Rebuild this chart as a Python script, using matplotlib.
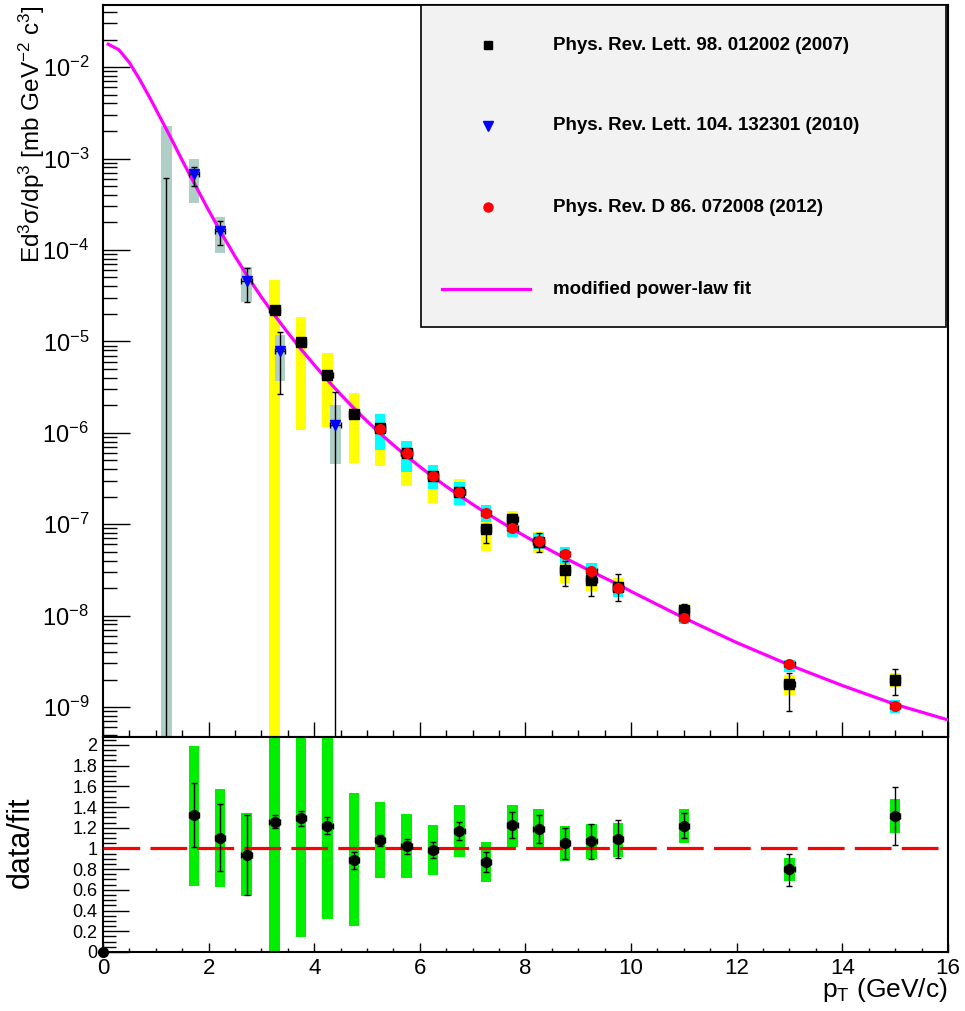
import numpy as np
import matplotlib
matplotlib.use("Agg")
import matplotlib.pyplot as plt
from matplotlib.ticker import MultipleLocator, LogLocator, FuncFormatter, NullFormatter

plt.rcParams['font.family'] = ['Liberation Sans', 'DejaVu Sans']
plt.rcParams['mathtext.default'] = 'regular'
plt.rcParams['axes.unicode_minus'] = False

#####----- data

# Phys. Rev. Lett. 98, 012002 (2007) - black squares, yellow syst. boxes
x_prl98 = [3.25, 3.75, 4.25, 4.75, 5.25, 5.75, 6.25, 6.75, 7.25, 7.75, 8.25, 8.75, 9.25, 9.75, 11.0, 13.0, 15.0]
y_prl98 = [2.19e-5, 9.8e-6, 4.27e-6, 1.60e-6, 1.12e-6, 5.95e-7, 3.35e-7, 2.26e-7, 8.8e-8, 1.13e-7, 6.35e-8, 3.19e-8, 2.44e-8, 2.05e-8, 1.15e-8, 1.77e-9, 1.96e-9]
stat_lo_prl98 = [2.1e-5, 9.4e-6, 4.1e-6, 1.54e-6, 1.07e-6, 5.7e-7, 3.2e-7, 2.15e-7, 6.3e-8, 9.5e-8, 5.0e-8, 2.13e-8, 1.64e-8, 1.45e-8, 9.8e-9, 9.0e-10, 1.35e-9]
stat_hi_prl98 = [2.28e-5, 1.02e-5, 4.45e-6, 1.66e-6, 1.17e-6, 6.2e-7, 3.5e-7, 2.37e-7, 1.0e-7, 1.29e-7, 8.0e-8, 4.0e-8, 3.1e-8, 2.82e-8, 1.33e-8, 2.34e-9, 2.58e-9]
sys_lo_prl98 = [1e-11, 1.07e-6, 1.15e-6, 4.65e-7, 4.35e-7, 2.6e-7, 1.71e-7, 1.6e-7, 5.1e-8, 8.5e-8, 4.8e-8, 2.28e-8, 1.86e-8, 1.7e-8, 9.0e-9, 1.35e-9, 1.66e-9]
sys_hi_prl98 = [4.68e-5, 1.84e-5, 7.43e-6, 2.71e-6, 1.5e-6, 7.5e-7, 4.2e-7, 3.1e-7, 1.15e-7, 1.39e-7, 8.2e-8, 4.0e-8, 3.2e-8, 2.55e-8, 1.35e-8, 2.23e-9, 2.33e-9]

# Phys. Rev. Lett. 104, 132301 (2010) - blue triangles, grey syst. boxes
x_prl104 = [1.2, 1.72, 2.22, 2.72, 3.35, 4.4]
y_prl104 = [3e-10, 6.75e-4, 1.62e-4, 4.59e-5, 7.87e-6, 1.23e-6]
stat_lo_prl104 = [1e-11, 4.99e-4, 1.13e-4, 2.69e-5, 2.64e-6, 1e-11]
stat_hi_prl104 = [6.1e-4, 8.1e-4, 2.08e-4, 6.37e-5, 1.25e-5, 2.76e-6]
sys_lo_prl104 = [1e-11, 3.23e-4, 9.3e-5, 2.67e-5, 3.7e-6, 4.5e-7]
sys_hi_prl104 = [2.26e-3, 9.77e-4, 2.27e-4, 6.53e-5, 1.17e-5, 2.0e-6]

# Phys. Rev. D 86, 072008 (2012) - red circles, cyan syst. boxes
x_prd86 = [5.25, 5.75, 6.25, 6.75, 7.25, 7.75, 8.25, 8.75, 9.25, 9.75, 11.0, 13.0, 15.0]
y_prd86 = [1.11e-6, 5.94e-7, 3.35e-7, 2.25e-7, 1.34e-7, 9.1e-8, 6.5e-8, 4.7e-8, 3.08e-8, 2.03e-8, 9.5e-9, 2.92e-9, 1.02e-9]
sys_lo_prd86 = [6.45e-7, 3.73e-7, 2.4e-7, 1.61e-7, 1.06e-7, 7.2e-8, 5.3e-8, 3.7e-8, 2.5e-8, 1.6e-8, 8.05e-9, 2.42e-9, 8.7e-10]
sys_hi_prd86 = [1.6e-6, 8.1e-7, 4.43e-7, 2.86e-7, 1.61e-7, 1.09e-7, 8.0e-8, 5.65e-8, 3.74e-8, 2.34e-8, 1.1e-8, 3.31e-9, 1.19e-9]

# modified power-law fit, sampled off the curve
fit_pt = [0.1, 0.3, 0.5, 0.7, 0.9, 1.1, 1.3, 1.5, 1.75, 2.0, 2.25, 2.5, 2.75, 3.0, 3.25, 3.5, 3.75, 4.0,
          4.25, 4.5, 4.75, 5.0, 5.25, 5.5, 5.75, 6.0, 6.25, 6.5, 6.75, 7.0, 7.25, 7.5, 7.75, 8.0, 8.25,
          8.5, 8.75, 9.0, 9.25, 9.5, 9.75, 10.0, 11.0, 12.0, 13.0, 14.0, 15.0, 16.0]
fit_val = [1.778e-2, 1.549e-2, 1.122e-2, 7.24e-3, 4.47e-3, 2.69e-3, 1.62e-3, 9.55e-4, 5.07e-4, 2.72e-4,
           1.50e-4, 8.51e-5, 5.01e-5, 3.05e-5, 1.93e-5, 1.245e-5, 8.22e-6, 5.53e-6, 3.78e-6, 2.63e-6,
           1.86e-6, 1.34e-6, 9.83e-7, 7.33e-7, 5.55e-7, 4.26e-7, 3.30e-7, 2.59e-7, 2.06e-7, 1.65e-7,
           1.33e-7, 1.09e-7, 8.91e-8, 7.35e-8, 6.10e-8, 5.08e-8, 4.27e-8, 3.60e-8, 3.04e-8, 2.58e-8,
           2.20e-8, 1.84e-8, 9.44e-9, 5.07e-9, 2.88e-9, 1.72e-9, 1.07e-9, 7.24e-10]

# data/fit
x_ratio = [1.72, 2.22, 2.72, 3.25, 3.75, 4.25, 4.75, 5.25, 5.75, 6.25, 6.75, 7.25, 7.75, 8.25, 8.75, 9.25, 9.75, 11.0, 13.0, 15.0]
ratio = [1.32, 1.10, 0.935, 1.26, 1.29, 1.22, 0.89, 1.08, 1.02, 0.98, 1.17, 0.87, 1.23, 1.19, 1.05, 1.07, 1.09, 1.22, 0.80, 1.31]
ratio_stat_lo = [1.01, 0.78, 0.55, 1.20, 1.22, 1.14, 0.80, 1.02, 0.95, 0.91, 1.08, 0.77, 1.10, 1.05, 0.90, 0.90, 0.91, 1.10, 0.64, 1.03]
ratio_stat_hi = [1.63, 1.43, 1.32, 1.32, 1.36, 1.30, 0.97, 1.13, 1.09, 1.06, 1.26, 0.97, 1.35, 1.32, 1.20, 1.24, 1.27, 1.34, 0.95, 1.59]
ratio_sys_lo = [0.64, 0.63, 0.54, 0.0, 0.14, 0.32, 0.25, 0.71, 0.71, 0.74, 0.92, 0.68, 1.01, 1.01, 0.88, 0.90, 0.92, 1.05, 0.69, 1.15]
ratio_sys_hi = [1.99, 1.57, 1.34, 2.5, 2.5, 2.5, 1.54, 1.45, 1.33, 1.23, 1.42, 1.06, 1.42, 1.38, 1.22, 1.24, 1.25, 1.38, 0.91, 1.48]

legend_labels = ["Phys. Rev. Lett. 98. 012002 (2007)",
                 "Phys. Rev. Lett. 104. 132301 (2010)",
                 "Phys. Rev. D 86. 072008 (2012)",
                 "modified power-law fit"]

#####----- helpers

def syst_boxes(axis, x, lo, hi, color):
    lo = np.array(lo)
    hi = np.array(hi)
    axis.bar(x, hi - lo, bottom=lo, width=0.2, color=color, linewidth=0, zorder=1)

def points(axis, x, y, lo, hi, marker, color, ms):
    y = np.array(y)
    yerr = [y - np.array(lo), np.array(hi) - y]
    axis.errorbar(x, y, yerr=yerr, xerr=0.1, fmt=marker, ms=ms, mfc=color, mec=color,
                  ecolor='black', elinewidth=1.0, capsize=2.5, capthick=1.0, zorder=4)

#####----- figure

fig = plt.figure(figsize=(9.65, 10.11), dpi=100)
ax = fig.add_axes([0.1067, 0.2710, 0.8756, 0.7240])
axr = fig.add_axes([0.1067, 0.0584, 0.8756, 0.2127])

# top panel
syst_boxes(ax, x_prl98, sys_lo_prl98, sys_hi_prl98, '#ffff00')
syst_boxes(ax, x_prl104, sys_lo_prl104, sys_hi_prl104, '#afcec6')
syst_boxes(ax, x_prd86, sys_lo_prd86, sys_hi_prd86, '#00ffff')

ax.plot(fit_pt, fit_val, color='#ff00ff', lw=2.3, zorder=3)

points(ax, x_prl98, y_prl98, stat_lo_prl98, stat_hi_prl98, 's', 'black', 6.5)
points(ax, x_prl104, y_prl104, stat_lo_prl104, stat_hi_prl104, 'v', '#0000ff', 7)
y86 = np.array(y_prd86)
points(ax, x_prd86, y86, y86 * 0.97, y86 * 1.03, 'o', '#ff0000', 7)

ax.set_yscale('log')
ax.set_xlim(0, 16)
ax.set_ylim(4.7e-10, 4.77e-2)
ax.yaxis.set_major_locator(LogLocator(base=10, numticks=20))
ax.yaxis.set_minor_locator(LogLocator(base=10, subs=np.arange(2, 10), numticks=20))
ax.yaxis.set_minor_formatter(NullFormatter())
ax.xaxis.set_major_locator(MultipleLocator(2))
ax.xaxis.set_minor_locator(MultipleLocator(0.5))
ax.tick_params(axis='y', which='major', direction='in', length=19.5, width=1, labelsize=17, pad=10)
ax.tick_params(axis='y', which='minor', direction='in', length=10, width=1)
ax.tick_params(axis='x', which='major', direction='in', length=11, width=1, labelbottom=False)
ax.tick_params(axis='x', which='minor', direction='in', length=5, width=1)
for s in ax.spines.values():
    s.set_linewidth(1.5)

# legend box, drawn by hand in axes coordinates
ax.add_patch(plt.Rectangle((0.376, 0.56), 0.622, 0.44, transform=ax.transAxes,
                           facecolor='#f2f2f2', edgecolor='black', lw=1.2, zorder=6))
rows = [0.945, 0.835, 0.724, 0.612]
ax.plot([0.456], [rows[0]], 's', color='black', ms=6, transform=ax.transAxes, zorder=7, clip_on=False)
ax.plot([0.456], [rows[1]], 'v', color='#0000ff', ms=6.5, transform=ax.transAxes, zorder=7, clip_on=False)
ax.plot([0.456], [rows[2]], 'o', color='#ff0000', ms=6.5, transform=ax.transAxes, zorder=7, clip_on=False)
ax.plot([0.401, 0.505], [rows[3], rows[3]], color='#ff00ff', lw=2.3, transform=ax.transAxes, zorder=7)
for r, lab in zip(rows, legend_labels):
    ax.text(0.533, r, lab, transform=ax.transAxes, fontsize=13.5, fontweight='bold',
            va='center', ha='left', zorder=8)

# ratio panel
syst_boxes(axr, x_ratio, ratio_sys_lo, ratio_sys_hi, '#00ee00')
axr.axhline(1.0, color='#ff0000', lw=2.3, dashes=(11.5, 3.2), zorder=3)
points(axr, x_ratio, ratio, ratio_stat_lo, ratio_stat_hi, 'o', 'black', 7)
axr.plot([0], [0], 'o', color='black', ms=7, clip_on=False, zorder=5)

axr.set_xlim(0, 16)
axr.set_ylim(0, 2.077)
axr.xaxis.set_major_locator(MultipleLocator(2))
axr.xaxis.set_minor_locator(MultipleLocator(0.5))
axr.yaxis.set_major_locator(MultipleLocator(0.2))
axr.yaxis.set_minor_locator(MultipleLocator(0.05))
axr.yaxis.set_major_formatter(FuncFormatter(lambda v, p: f"{v:g}"))
axr.tick_params(axis='y', which='major', direction='in', length=19, width=1, labelsize=13, pad=4)
axr.tick_params(axis='y', which='minor', direction='in', length=9.5, width=1)
axr.tick_params(axis='x', which='major', direction='in', length=6.5, width=1, labelsize=16, pad=4)
axr.tick_params(axis='x', which='minor', direction='in', length=3, width=1)
for s in axr.spines.values():
    s.set_linewidth(1.5)

# axis titles
fig.text(0.033, 0.995, r"Ed$^{3}$$\sigma$/dp$^{3}$ [mb GeV$^{-2}$ c$^{3}$]", rotation=90,
         ha='center', va='top', fontsize=17.5)
fig.text(0.022, 1 - 842 / 1011, "data/fit", rotation=90, ha='center', va='center', fontsize=22)
fig.text(948 / 965, 1 - 990 / 1011, r"p$_{T}$ (GeV/c)", ha='right', va='center', fontsize=19)

fig.savefig("out.png", dpi=100)
